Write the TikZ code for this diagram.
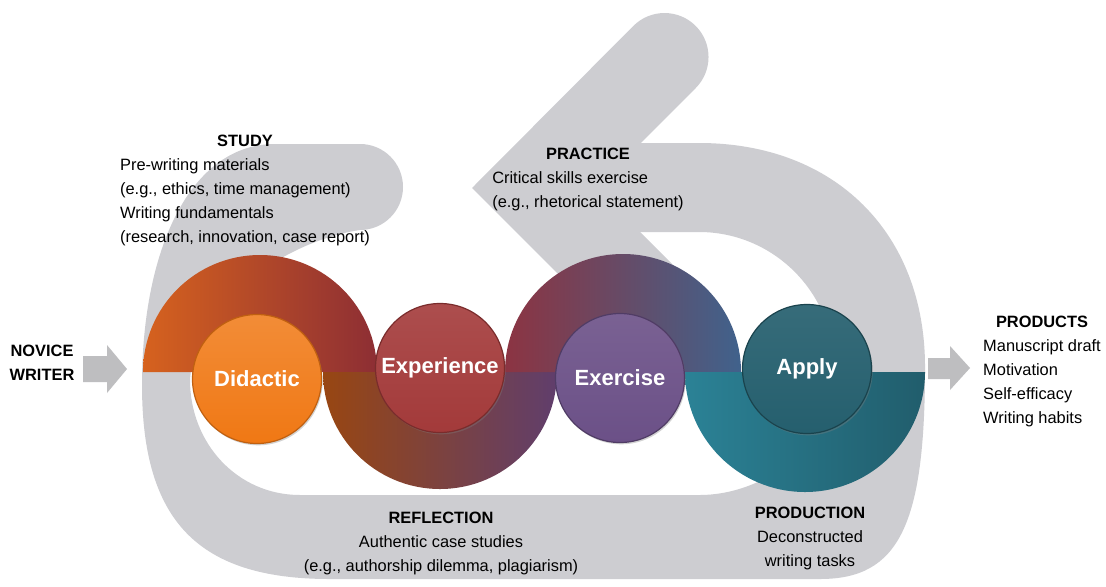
\documentclass[tikz,border=0pt]{standalone}
\usepackage{fontspec}
\setmainfont{Liberation Sans}
\usetikzlibrary{positioning,shadows}

\definecolor{loopgray}{RGB}{205,205,209}
\definecolor{arrowgray}{RGB}{190,190,192}
\definecolor{didacticC}{RGB}{240,120,20}
\definecolor{experienceC}{RGB}{163,58,58}
\definecolor{exerciseC}{RGB}{107,80,135}
\definecolor{applyC}{RGB}{37,95,110}

\begin{document}
\begin{tikzpicture}[
	x=0.5pt, y=0.5pt,
	stage/.style={
		circle, minimum size=64.5pt, inner sep=0pt, outer sep=0pt,
		text=white, font=\fontsize{11}{13}\selectfont\bfseries, line width=0.6pt,
		drop shadow={opacity=0.35, shadow xshift=0.6pt, shadow yshift=-0.9pt}
	},
	head/.style={font=\fontsize{8.2}{12}\selectfont\bfseries, anchor=base, inner sep=0pt, outer sep=0pt},
	body/.style={font=\fontsize{8.2}{12}\selectfont, inner sep=0pt, outer sep=0pt},
	blockarrow/.style={fill=arrowgray},
	]
	
	\fill[white] (0,0) rectangle (1106,586);
	
	% big gray loop with its round tail near STUDY
	\fill[loopgray] (590,443) -- (699,443)
		.. controls (834.6,443) and (925,353.4) .. (925,219)
		.. controls (925,61) and (899,7) .. (820,7) -- (330,7)
		.. controls (198,7) and (142,65) .. (142,201)
		.. controls (142,336) and (190,442) .. (275,442) -- (360,442)
		arc[start angle=90, end angle=-90, radius=43]
		.. controls (290,346) and (195,286) .. (190,206)
		.. controls (190,143) and (237,91) .. (300,91) -- (700,91)
		.. controls (760,91) and (834,136) .. (834,219)
		.. controls (834,293.5) and (773.5,354) .. (699,354) -- (590,354) -- cycle;
	% arrow head pointing left
	\fill[loopgray] (472,398) -- (633.4,560.1) arc[start angle=135, end angle=-45, radius=44]
		-- (596,398) -- (691,303) -- (629,241) -- cycle;
	
	% the wave: half discs above / below the axis
	\shade[left color={rgb,255:red,214;green,98;blue,30}, middle color={rgb,255:red,172;green,66;blue,45},
		right color={rgb,255:red,141;green,46;blue,52}]
		(143,214) arc[start angle=180, end angle=0, radius=117] -- cycle;
	\shade[left color={rgb,255:red,152;green,70;blue,18}, middle color={rgb,255:red,104;green,34;blue,38},
		right color={rgb,255:red,96;green,62;blue,108}]
		(323,214) arc[start angle=180, end angle=360, radius=117] -- cycle;
	\shade[left color={rgb,255:red,140;green,52;blue,66}, middle color={rgb,255:red,108;green,62;blue,104},
		right color={rgb,255:red,64;green,98;blue,140}]
		(505,214) arc[start angle=180, end angle=0, radius=118] -- cycle;
	\shade[left color={rgb,255:red,43;green,130;blue,150}, right color={rgb,255:red,33;green,93;blue,108}]
		(685,214) arc[start angle=180, end angle=360, radius=120] -- cycle;
	
	\node[stage, top color=didacticC!85!white, bottom color=didacticC, draw=didacticC!80!black]       (didactic)   at (257,207) {Didactic};
	\node[stage, top color=experienceC!90!white, bottom color=experienceC, draw=experienceC!75!black] (experience) at (440,218) {Experience};
	\node[stage, top color=exerciseC!90!white, bottom color=exerciseC, draw=exerciseC!75!black]       (exercise)   at (620,208) {Exercise};
	\node[stage, top color=applyC!92!white, bottom color=applyC, draw=applyC!70!black]                (apply)      at (807,217) {Apply};
	
	% in / out arrows
	\fill[blockarrow] (83,230) -- (107,230) -- (107,241) -- (127,217) -- (107,193) -- (107,204) -- (83,204) -- cycle;
	\fill[blockarrow] (928,228) -- (950,228) -- (950,240) -- (970,218) -- (950,196) -- (950,207) -- (928,207) -- cycle;
	
	\node[head, anchor=center, align=center] (novice) at (42,223) {NOVICE\\WRITER};
	
	\node[head] (study) at (245,440) {STUDY};
	\node[body, align=left, below=6pt of study] (studytxt)
		{Pre-writing materials\\(e.g., ethics, time management)\\Writing fundamentals\\(research, innovation, case report)};
	
	\node[head] (practice) at (588,427) {PRACTICE};
	\node[body, align=left, below=6pt of practice] (practicetxt)
		{Critical skills exercise\\(e.g., rhetorical statement)};
	
	\node[head] (reflection) at (441,63) {REFLECTION};
	\node[body, align=center, below=6pt of reflection] (reflectiontxt)
		{Authentic case studies\\(e.g., authorship dilemma, plagiarism)};
	
	\node[head] (production) at (810,68) {PRODUCTION};
	\node[body, align=center, below=6pt of production] (productiontxt)
		{Deconstructed\\writing tasks};
	
	\node[head] (products) at (1042,259) {PRODUCTS};
	\node[body, align=left, below=6pt of products] (productstxt)
		{Manuscript draft\\Motivation\\Self-efficacy\\Writing habits};
	
\end{tikzpicture}
\end{document}
